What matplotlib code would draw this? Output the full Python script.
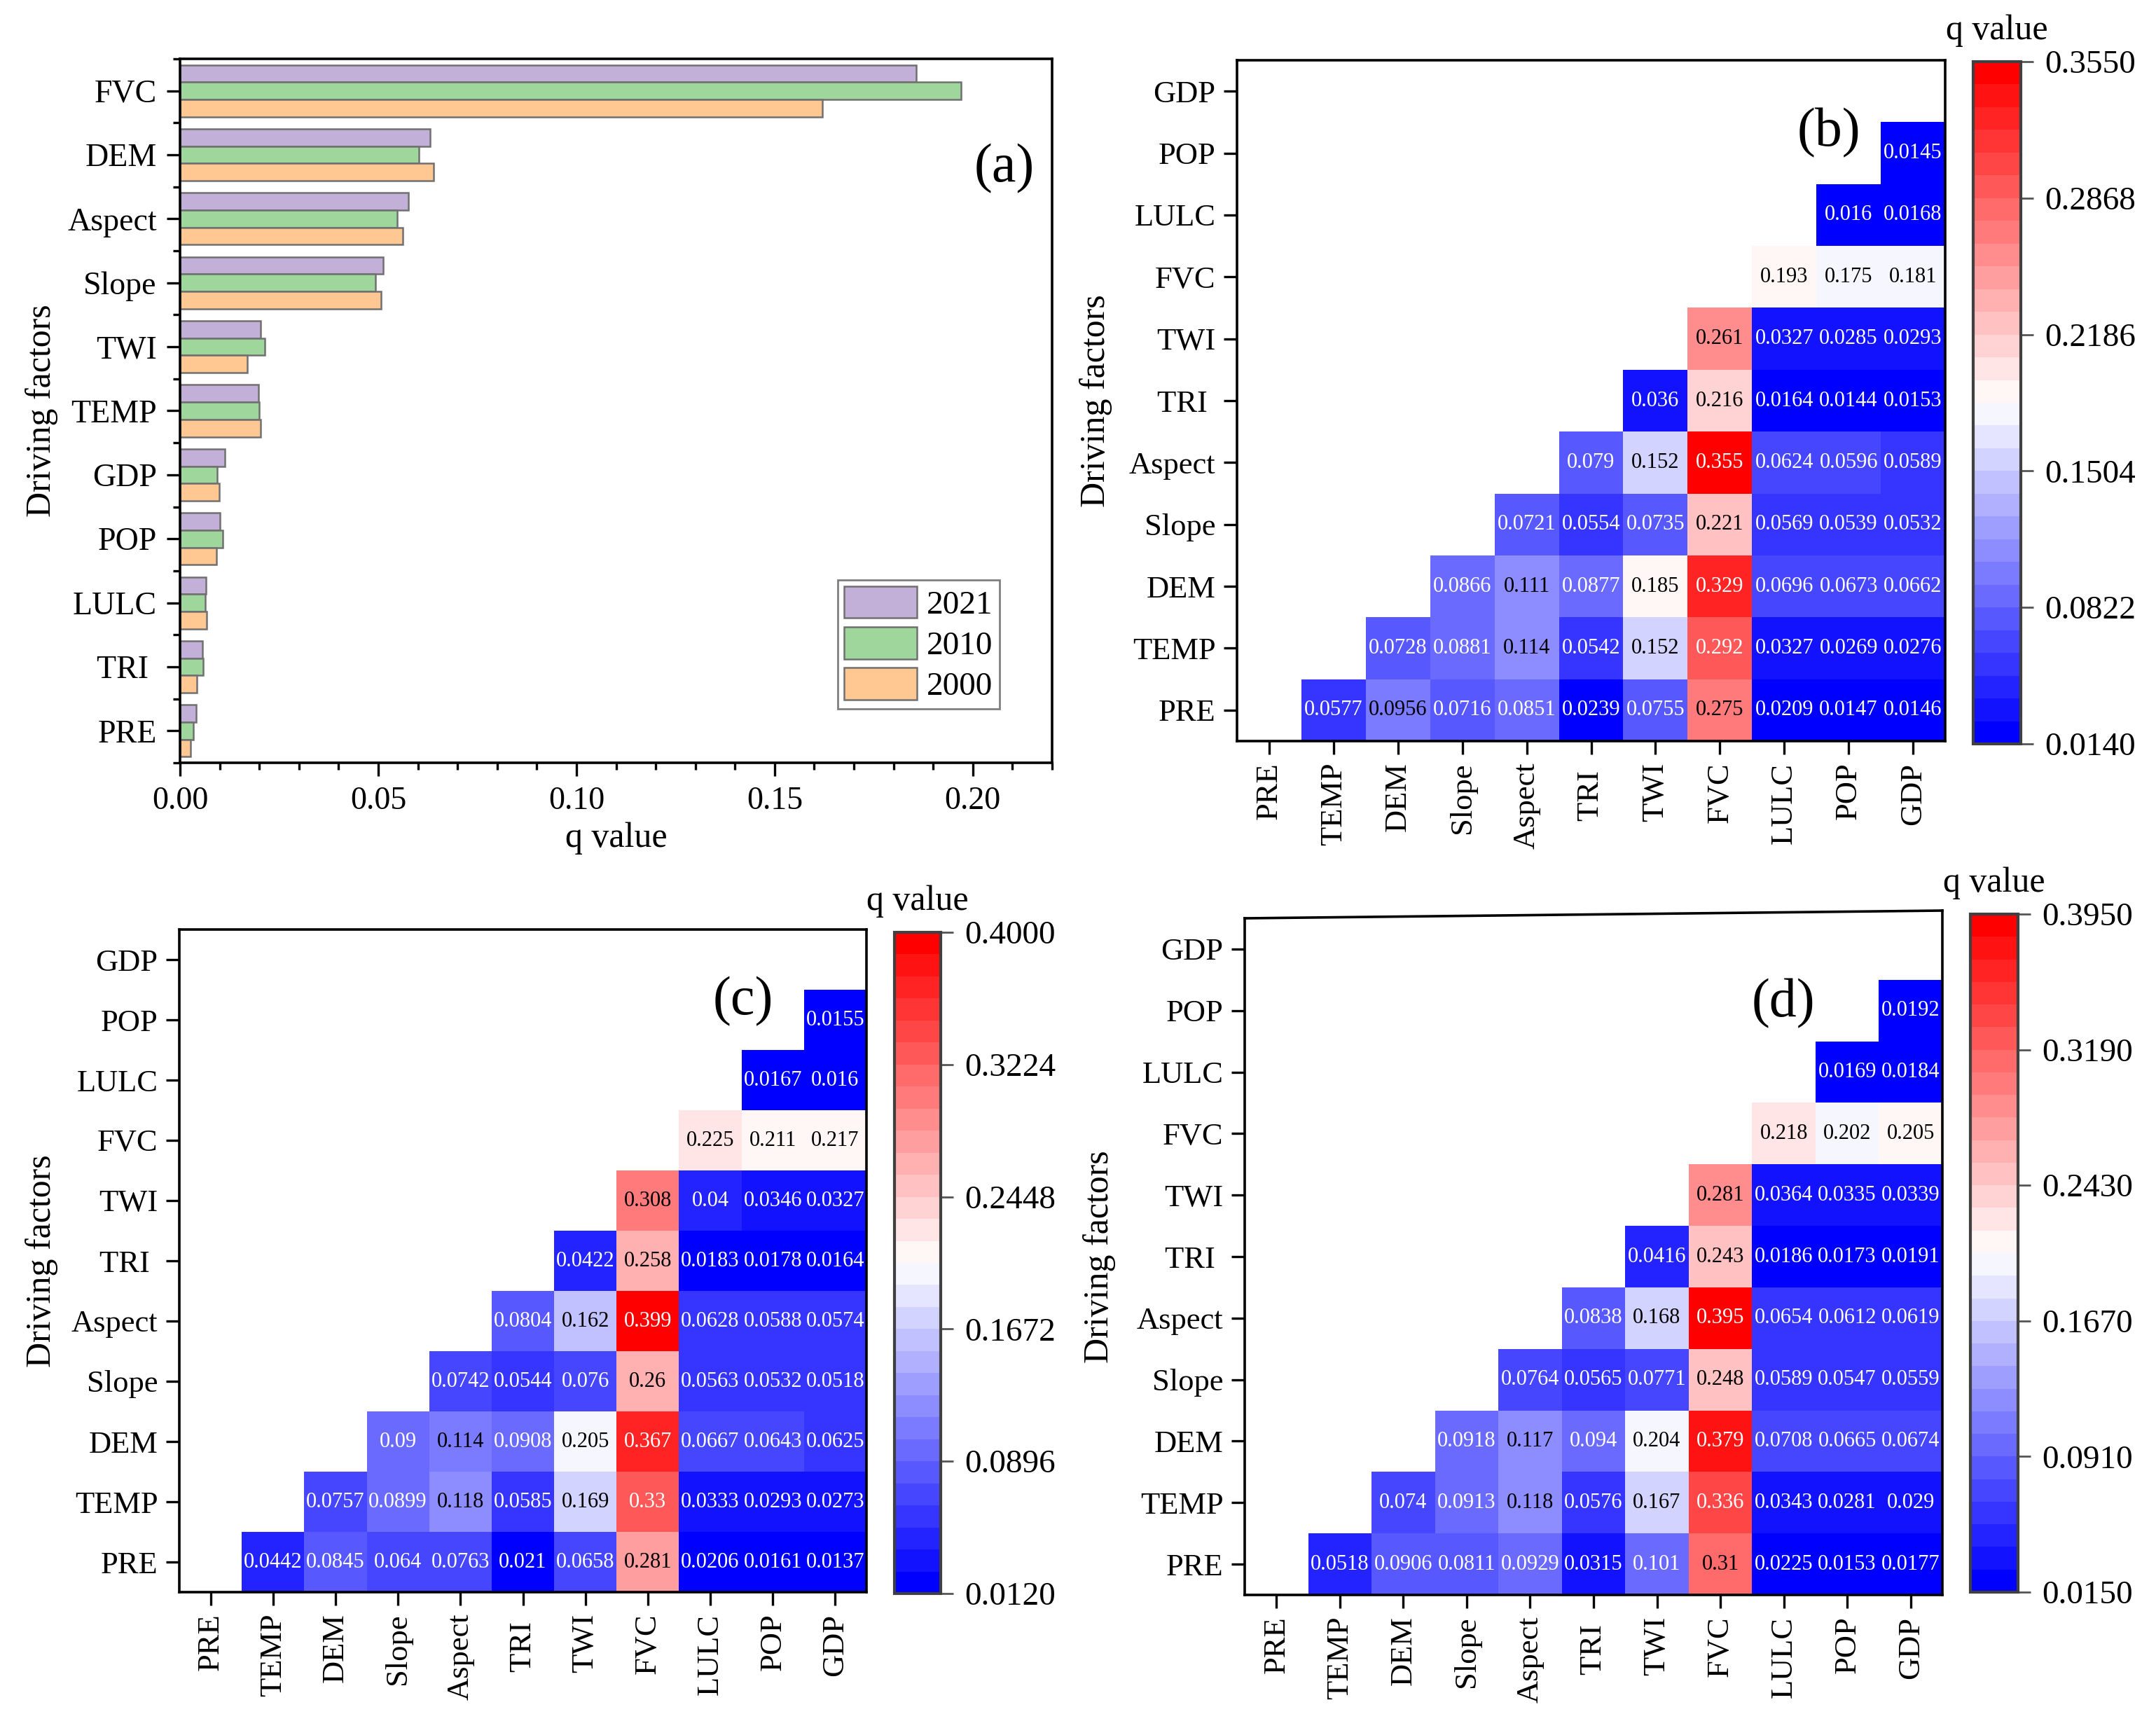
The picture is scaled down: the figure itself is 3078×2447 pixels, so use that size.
import numpy as np
import matplotlib
matplotlib.use('Agg')
import matplotlib.pyplot as plt
from matplotlib.colors import Normalize
from matplotlib.ticker import MultipleLocator, FormatStrFormatter
from matplotlib.lines import Line2D

plt.rcParams['font.family'] = ['Liberation Serif', 'DejaVu Serif']

W, H, DPI = 3078, 2447, 200

# ---------------- (a) single-factor q values (bottom -> top) ----------------
bar_factors = ['PRE', 'TRI ', 'LULC', 'POP', 'GDP', 'TEMP', 'TWI', 'Slope', 'Aspect', 'DEM', 'FVC']
q_2021 = [0.0040, 0.0057, 0.0066, 0.0101, 0.0113, 0.0198, 0.0203, 0.0512, 0.0576, 0.0630, 0.1858]
q_2010 = [0.0033, 0.0059, 0.0064, 0.0108, 0.0094, 0.0200, 0.0214, 0.0493, 0.0547, 0.0602, 0.1970]
q_2000 = [0.0026, 0.0043, 0.0068, 0.0092, 0.0099, 0.0203, 0.0170, 0.0507, 0.0562, 0.0639, 0.1620]
years = ['2021', '2010', '2000']
bar_colors = ['#C2B0D8', '#9ED69C', '#FFC792']

# ---------------- interaction heatmaps ----------------
heat_factors = ['PRE', 'TEMP', 'DEM', 'Slope', 'Aspect', 'TRI ', 'TWI', 'FVC', 'LULC', 'POP', 'GDP']

# row i holds the interactions of factor i with factors i+1 ... GDP
panel_b = [
    [0.0577, 0.0956, 0.0716, 0.0851, 0.0239, 0.0755, 0.275, 0.0209, 0.0147, 0.0146],
    [0.0728, 0.0881, 0.114, 0.0542, 0.152, 0.292, 0.0327, 0.0269, 0.0276],
    [0.0866, 0.111, 0.0877, 0.185, 0.329, 0.0696, 0.0673, 0.0662],
    [0.0721, 0.0554, 0.0735, 0.221, 0.0569, 0.0539, 0.0532],
    [0.079, 0.152, 0.355, 0.0624, 0.0596, 0.0589],
    [0.036, 0.216, 0.0164, 0.0144, 0.0153],
    [0.261, 0.0327, 0.0285, 0.0293],
    [0.193, 0.175, 0.181],
    [0.016, 0.0168],
    [0.0145],
]
panel_c = [
    [0.0442, 0.0845, 0.064, 0.0763, 0.021, 0.0658, 0.281, 0.0206, 0.0161, 0.0137],
    [0.0757, 0.0899, 0.118, 0.0585, 0.169, 0.33, 0.0333, 0.0293, 0.0273],
    [0.09, 0.114, 0.0908, 0.205, 0.367, 0.0667, 0.0643, 0.0625],
    [0.0742, 0.0544, 0.076, 0.26, 0.0563, 0.0532, 0.0518],
    [0.0804, 0.162, 0.399, 0.0628, 0.0588, 0.0574],
    [0.0422, 0.258, 0.0183, 0.0178, 0.0164],
    [0.308, 0.04, 0.0346, 0.0327],
    [0.225, 0.211, 0.217],
    [0.0167, 0.016],
    [0.0155],
]
panel_d = [
    [0.0518, 0.0906, 0.0811, 0.0929, 0.0315, 0.101, 0.31, 0.0225, 0.0153, 0.0177],
    [0.074, 0.0913, 0.118, 0.0576, 0.167, 0.336, 0.0343, 0.0281, 0.029],
    [0.0918, 0.117, 0.094, 0.204, 0.379, 0.0708, 0.0665, 0.0674],
    [0.0764, 0.0565, 0.0771, 0.248, 0.0589, 0.0547, 0.0559],
    [0.0838, 0.168, 0.395, 0.0654, 0.0612, 0.0619],
    [0.0416, 0.243, 0.0186, 0.0173, 0.0191],
    [0.281, 0.0364, 0.0335, 0.0339],
    [0.218, 0.202, 0.205],
    [0.0169, 0.0184],
    [0.0192],
]
cbar_b = (0.0140, 0.3550)
cbar_c = (0.0120, 0.4000)
cbar_d = (0.0150, 0.3950)


def rect(l, t, r, b):
    return [l / W, 1 - b / H, (r - l) / W, (b - t) / H]


fig = plt.figure(figsize=(W / DPI, H / DPI), dpi=DPI)

TICK = dict(direction='out', length=7, width=1.2, labelsize=16.5)

# ---------------- panel (a) ----------------
axa = fig.add_axes(rect(257, 84, 1502, 1089))
y = np.arange(len(bar_factors))
hgt = 0.27
for k, (vals, col, lab) in enumerate(zip([q_2021, q_2010, q_2000], bar_colors, years)):
    axa.barh(y + (1 - k) * hgt, vals, height=hgt, color=col, edgecolor='#707070',
             linewidth=0.9, label=lab)
axa.set_xlim(0, 0.22)
axa.set_ylim(-0.5, len(bar_factors) - 0.5)
axa.xaxis.set_major_locator(MultipleLocator(0.05))
axa.xaxis.set_minor_locator(MultipleLocator(0.01))
axa.xaxis.set_major_formatter(FormatStrFormatter('%.2f'))
axa.set_yticks(y)
axa.set_yticklabels(bar_factors)
axa.set_yticks(np.arange(-0.5, len(bar_factors), 1.0), minor=True)
axa.tick_params(which='major', pad=5, **TICK)
axa.tick_params(which='minor', direction='out', length=3.5, width=1.2)
for s in axa.spines.values():
    s.set_linewidth(1.3)
axa.set_xlabel('q value', fontsize=18)
axa.xaxis.set_label_coords(0.5, -0.107)
axa.xaxis.label.set_va('center')
axa.set_ylabel('Driving factors', fontsize=18)
axa.yaxis.set_label_coords(-0.159, 0.5)
axa.yaxis.label.set_va('center')
axa.text(0.945, 0.844, '(a)', transform=axa.transAxes, fontsize=28, ha='center', va='center')
leg = axa.legend(loc='lower right', bbox_to_anchor=(0.94, 0.077), borderaxespad=0,
                 fontsize=17, fancybox=False, edgecolor='#808080', framealpha=1,
                 handlelength=2.2, handleheight=1.1, labelspacing=0.2,
                 handletextpad=0.3, borderpad=0.2)
leg.get_frame().set_linewidth(1.0)


# ---------------- heatmaps ----------------
def draw_heat(ax_box, cax_box, rows, vlim, label, label_xy, slant=0.0):
    ax = fig.add_axes(rect(*ax_box))
    cax = fig.add_axes(rect(*cax_box))
    n = len(heat_factors)
    M = np.full((n, n), np.nan)
    for i, row in enumerate(rows):
        M[i, i + 1:i + 1 + len(row)] = row
    cmap = plt.get_cmap('bwr', 30)
    norm = Normalize(vlim[0], vlim[1])
    edges = np.arange(n + 1) - 0.5
    mesh = ax.pcolormesh(edges, edges, np.ma.masked_invalid(M), cmap=cmap, norm=norm)
    for i in range(n):
        for j in range(n):
            v = M[i, j]
            if np.isnan(v):
                continue
            r, g, b, _ = cmap(norm(v))
            lum = 0.2126 * r + 0.7152 * g + 0.0722 * b
            ax.text(j, i, '{:g}'.format(v), ha='center', va='center', fontsize=11,
                    color='black' if lum > 0.5 else 'white')
    ax.set_xlim(-0.5, n - 0.5)
    ax.set_ylim(-0.5, n - 0.5)
    ax.set_xticks(range(n))
    ax.set_xticklabels(heat_factors, rotation=90)
    ax.set_yticks(range(n))
    ax.set_yticklabels(heat_factors)
    ax.tick_params(pad=4, **TICK)
    ax.tick_params(axis='both', labelsize=16)
    for s in ax.spines.values():
        s.set_linewidth(1.3)
    if slant:
        ax.spines['top'].set_visible(False)
        ax.spines['right'].set_visible(False)
        ax.add_line(Line2D([0, 1], [1, 1 + slant], transform=ax.transAxes, color='black',
                           lw=1.3, clip_on=False))
        ax.add_line(Line2D([1, 1], [0, 1 + slant], transform=ax.transAxes, color='black',
                           lw=1.3, clip_on=False))
    ax.set_ylabel('Driving factors', fontsize=18)
    ax.yaxis.label.set_va('center')
    ax.text(label_xy[0], label_xy[1], label, transform=ax.transAxes, fontsize=28,
            ha='center', va='center')

    cb = fig.colorbar(mesh, cax=cax)
    ticks = np.linspace(vlim[0], vlim[1], 6)
    cb.set_ticks(ticks)
    cb.set_ticklabels(['%.4f' % t for t in ticks])
    cb.ax.tick_params(length=6.5, width=1.0, color='#555555', labelsize=17, pad=6)
    cb.outline.set_edgecolor('#404040')
    cb.outline.set_linewidth(1.5)
    l, t, r, b = cax_box
    fig.text(((l + r) / 2) / W, 1 - (t - 32) / H, 'q value', fontsize=18,
             ha='center', va='baseline')
    return ax


axb = draw_heat((1766, 86, 2777, 1058), (2817, 88, 2885, 1062), panel_b, cbar_b,
                '(b)', (0.836, 0.893))
axb.yaxis.set_label_coords(-0.199, 0.5)
axc = draw_heat((256, 1327, 1237, 2273), (1277, 1331, 1343, 2275), panel_c, cbar_c,
                '(c)', (0.82, 0.892))
axc.yaxis.set_label_coords(-0.2, 0.5)
axd = draw_heat((1777, 1311, 2773, 2277), (2813, 1305, 2881, 2273), panel_d, cbar_d,
                '(d)', (0.772, 0.874), slant=11 / 966)
axd.yaxis.set_label_coords(-0.208, 0.5)

fig.savefig('out.png', dpi=DPI, facecolor='white')
